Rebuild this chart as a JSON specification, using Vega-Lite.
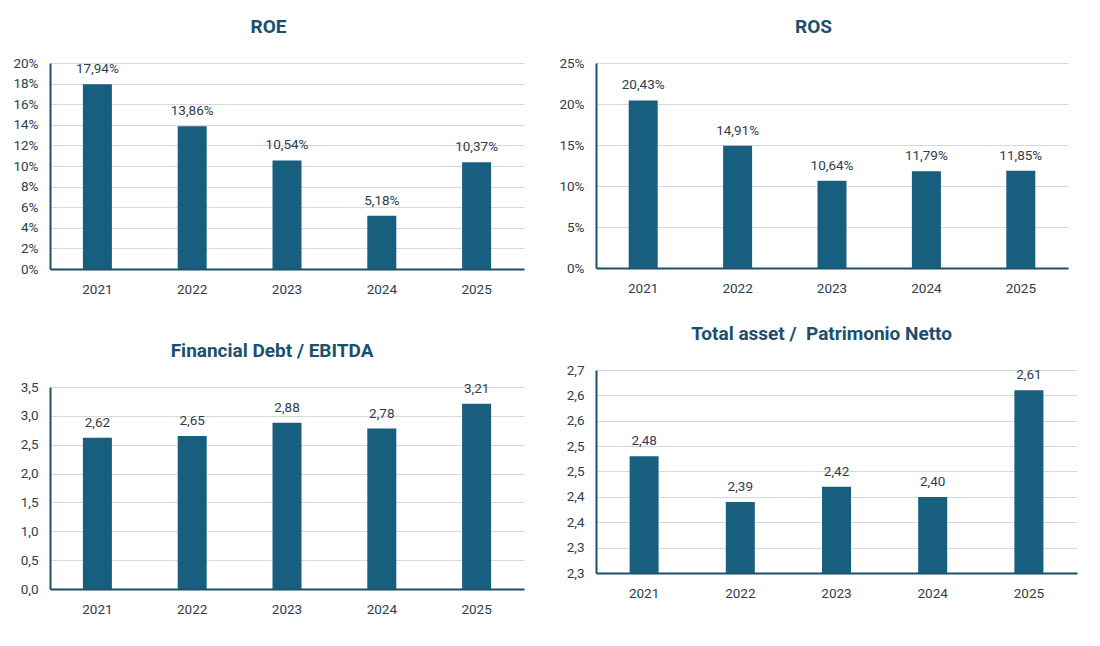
{
  "$schema": "https://vega.github.io/schema/vega-lite/v6.json",
  "background": "white",
  "padding": {"top": 18, "left": 12, "right": 20, "bottom": 10},
  "datasets": {
    "roe": [
      {"year": "2021", "v": 0.1794},
      {"year": "2022", "v": 0.1386},
      {"year": "2023", "v": 0.1054},
      {"year": "2024", "v": 0.0518},
      {"year": "2025", "v": 0.1037}
    ],
    "ros": [
      {"year": "2021", "v": 0.2043},
      {"year": "2022", "v": 0.1491},
      {"year": "2023", "v": 0.1064},
      {"year": "2024", "v": 0.1179},
      {"year": "2025", "v": 0.1185}
    ],
    "fd": [
      {"year": "2021", "v": 2.62},
      {"year": "2022", "v": 2.65},
      {"year": "2023", "v": 2.88},
      {"year": "2024", "v": 2.78},
      {"year": "2025", "v": 3.21}
    ],
    "ta": [
      {"year": "2021", "v": 2.48},
      {"year": "2022", "v": 2.39},
      {"year": "2023", "v": 2.42},
      {"year": "2024", "v": 2.40},
      {"year": "2025", "v": 2.61}
    ]
  },
  "hconcat": [
    {
      "vconcat": [
        {
          "title": {"text": "ROE"},
          "width": 474,
          "height": 206,
          "data": {"name": "roe"},
          "encoding": {
            "x": {"field": "year", "type": "ordinal", "title": null},
            "y": {"field": "v", "type": "quantitative", "title": null,
                  "scale": {"domain": [0, 0.2]},
                  "axis": {"values": [0, 0.02, 0.04, 0.06, 0.08, 0.1, 0.12, 0.14, 0.16, 0.18, 0.2], "format": ".0%"}}
          },
          "layer": [
            {"mark": {"type": "bar", "size": 29, "color": "#175E7F"}},
            {"mark": {"type": "text", "baseline": "bottom", "dy": -8}, "encoding": {"text": {"field": "v", "type": "quantitative", "format": ".2%"}}}
          ]
        },
        {
          "title": {"text": "Financial Debt / EBITDA"},
          "width": 474,
          "height": 202,
          "data": {"name": "fd"},
          "encoding": {
            "x": {"field": "year", "type": "ordinal", "title": null},
            "y": {"field": "v", "type": "quantitative", "title": null,
                  "scale": {"domain": [0, 3.5]},
                  "axis": {"values": [0, 0.5, 1, 1.5, 2, 2.5, 3, 3.5], "format": ".1f"}}
          },
          "layer": [
            {"mark": {"type": "bar", "size": 29, "color": "#175E7F"}},
            {"mark": {"type": "text", "baseline": "bottom", "dy": -8}, "encoding": {"text": {"field": "v", "type": "quantitative", "format": ".2f"}}}
          ]
        }
      ],
      "spacing": 46
    },
    {
      "vconcat": [
        {
          "title": {"text": "ROS"},
          "width": 472,
          "height": 205,
          "data": {"name": "ros"},
          "encoding": {
            "x": {"field": "year", "type": "ordinal", "title": null},
            "y": {"field": "v", "type": "quantitative", "title": null,
                  "scale": {"domain": [0, 0.25]},
                  "axis": {"values": [0, 0.05, 0.1, 0.15, 0.2, 0.25], "format": ".0%"}}
          },
          "layer": [
            {"mark": {"type": "bar", "size": 29, "color": "#175E7F"}},
            {"mark": {"type": "text", "baseline": "bottom", "dy": -8}, "encoding": {"text": {"field": "v", "type": "quantitative", "format": ".2%"}}}
          ]
        },
        {
          "title": {"text": "Total asset /\u00a0 Patrimonio Netto"},
          "width": 481,
          "height": 203,
          "data": {"name": "ta"},
          "encoding": {
            "x": {"field": "year", "type": "ordinal", "title": null},
            "y": {"field": "v", "type": "quantitative", "title": null,
                  "scale": {"domain": [2.25, 2.65], "zero": false},
                  "axis": {"values": [2.25, 2.3, 2.35, 2.4, 2.45, 2.5, 2.55, 2.6, 2.65],
                           "labelExpr": "replace(format(datum.value + 0.0001, '.1f'), '.', ',')"}}
          },
          "layer": [
            {"mark": {"type": "bar", "size": 29, "color": "#175E7F"}, "encoding": {"y2": {"datum": 2.25}}},
            {"mark": {"type": "text", "baseline": "bottom", "dy": -8}, "encoding": {"text": {"field": "v", "type": "quantitative", "format": ".2f"}}}
          ]
        }
      ],
      "spacing": 30
    }
  ],
  "spacing": 34,
  "config": {
    "locale": {"number": {"decimal": ",", "thousands": ".", "grouping": [3], "currency": ["€", ""]}},
    "font": "Roboto",
    "view": {"stroke": null},
    "title": {"fontSize": 19, "fontWeight": "bold", "color": "#1B4F6B", "font": "Roboto", "anchor": "middle", "frame": "bounds", "offset": 19},
    "text": {"fontSize": 13.5, "color": "#2E3D4C", "font": "Roboto"},
    "axisX": {"labelAngle": 0, "ticks": false, "grid": false, "domainColor": "#1F4E66", "domainWidth": 2, "labelFontSize": 13.5, "labelColor": "#2E3D4C", "labelPadding": 13},
    "axisY": {"ticks": false, "gridColor": "#D9D9D9", "domainColor": "#1F4E66", "domainWidth": 2, "labelFontSize": 13.5, "labelColor": "#2E3D4C", "labelPadding": 12},
    "scale": {"bandPaddingInner": 0.2}
  }
}
